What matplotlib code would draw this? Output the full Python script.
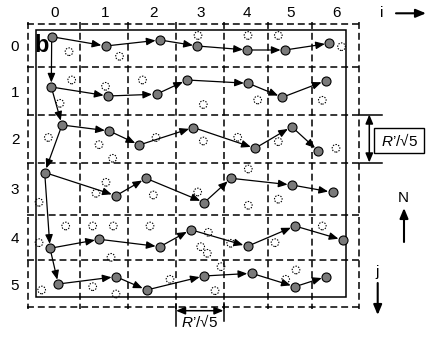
#!/usr/bin/env python3
# Sketch of the grid walk diagram (panel b)

import matplotlib
matplotlib.use("Agg")
import matplotlib.pyplot as plt
from matplotlib.patches import Rectangle

plt.rcParams["font.family"] = ["Liberation Sans", "DejaVu Sans"]
plt.rcParams["mathtext.fontset"] = "custom"
plt.rcParams["mathtext.it"] = "Liberation Sans:italic"
plt.rcParams["mathtext.rm"] = "Liberation Sans"
plt.rcParams["lines.scale_dashes"] = False

# Everything is in picture units: x to the right, y downwards
COL_EDGES = [28, 80, 128, 176, 223.5, 267.5, 311.5, 359]
ROW_EDGES = [23.5, 67, 114.5, 162.5, 214.5, 260, 307]
COL_LABELS = ["0", "1", "2", "3", "4", "5", "6"]
ROW_LABELS = ["0", "1", "2", "3", "4", "5"]

# Occupied sites, one path per row j
ROW_X = [
  [51.7, 105.7, 160, 197.3, 247.3, 285, 329.3],
  [51.3, 108, 156.5, 187, 248.3, 282.3, 325.7],
  [62, 109.3, 139.3, 193.3, 255, 291.7, 318.3],
  [44.7, 116, 146, 204.3, 231, 292, 332.5],
  [50, 99.3, 160, 190.7, 247.5, 295, 342.7],
  [58.3, 116, 146.7, 204, 251.7, 295, 326],
]
ROW_Y = [
  [36.7, 46, 40, 46, 50, 50, 43.3],
  [87, 96, 94.2, 80, 83.3, 97.3, 80.7],
  [125, 131, 145, 127.5, 148.3, 126.7, 151],
  [172.5, 195.7, 178.3, 202.5, 178.3, 185, 192.3],
  [248.3, 239.3, 246.7, 229.7, 246.3, 226, 240],
  [284, 276.7, 290, 276, 273.3, 286.7, 276.7],
]

# Empty (dotted) sites
EMPTY_X = [69, 119.5, 198, 248, 278.3, 341.5,
           71.7, 105.5, 142.5, 60, 203.3, 257.7, 322.3,
           48.3, 99, 112.7, 156, 203.3, 237.7, 278.3, 336,
           106, 96, 153.3, 197.7, 39, 248.3, 248.3, 278.3,
           65.7, 92.7, 113.3, 150, 39, 111, 208.3, 200.7, 207.3, 230.7, 275, 322.3,
           41.7, 92.7, 116, 170, 221, 296, 285.7, 215]
EMPTY_Y = [51.7, 56.3, 35.5, 35.5, 35.5, 46.7,
           80, 86.3, 80, 103.3, 104.5, 100, 100.3,
           137.5, 144.7, 158.3, 137.5, 141, 137.3, 141.7, 148.3,
           182.3, 193.3, 195, 192, 202.3, 169, 205.3, 199.2,
           226, 226, 226, 226, 242.7, 257.3, 232.3, 246.7, 253.3, 243.3, 242.7, 226,
           290, 286.7, 294, 279.3, 266.7, 270, 279.3, 290.7]

SCALE_LABEL = "$R$\u2019/\u221a5"

DASH = (0, (5.0, 2.8))
GREY = "#7a7a7a"
FS = 11


def arrow(ax, p0, p1, scale=9, shrink=3.2, lw=0.9):
  ax.annotate("", xy=p1, xytext=p0,
              arrowprops=dict(arrowstyle="-|>,head_length=0.6,head_width=0.25",
                              mutation_scale=scale, lw=lw, color="black",
                              shrinkA=shrink, shrinkB=shrink))


def main():
  fig = plt.figure(figsize=(4.3, 3.37), dpi=100)
  ax = fig.add_axes([0, 0, 1, 1])
  ax.set_xlim(0, 430)
  ax.set_ylim(337, 0)
  ax.axis("off")

  # dashed cell grid
  for x in COL_EDGES:
    ax.plot([x, x], [ROW_EDGES[0] - 2, ROW_EDGES[-1] + 2], color="black", lw=1.1, ls=DASH)
  for y in ROW_EDGES:
    ax.plot([COL_EDGES[0] - 1, COL_EDGES[-1] + 2], [y, y], color="black", lw=1.1, ls=DASH)

  # solid sample outline
  ax.add_patch(Rectangle((35.5, 29.5), 346 - 35.5, 297.3 - 29.5,
                         fill=False, ec="black", lw=1.1))

  for i, lab in enumerate(COL_LABELS):
    ax.text((COL_EDGES[i] + COL_EDGES[i + 1]) / 2 + 1, 13, lab, ha="center", va="center", fontsize=FS)
  for j, lab in enumerate(ROW_LABELS):
    ax.text(15, (ROW_EDGES[j] + ROW_EDGES[j + 1]) / 2 + 2, lab, ha="center", va="center", fontsize=FS)

  ax.text(41.5, 46, "b", ha="center", va="center", fontsize=17, fontweight="bold")

  # empty sites
  ax.scatter(EMPTY_X, EMPTY_Y, s=30, facecolors="none", edgecolors="black",
             linewidths=0.8, linestyles=(0, (1, 1)), zorder=2)

  # column walk down the first site of every row
  first_x = [xs[0] for xs in ROW_X]
  first_y = [ys[0] for ys in ROW_Y]
  for k in range(len(first_x) - 1):
    arrow(ax, (first_x[k], first_y[k]), (first_x[k + 1], first_y[k + 1]))

  # row walks
  for xs, ys in zip(ROW_X, ROW_Y):
    for k in range(len(xs) - 1):
      arrow(ax, (xs[k], ys[k]), (xs[k + 1], ys[k + 1]))
    ax.plot(xs, ys, ls="none", marker="o", ms=6.5, mfc=GREY, mec="black", mew=0.8, zorder=4)

  # axis direction hints
  ax.text(381.5, 13, "i", ha="center", va="center", fontsize=FS)
  arrow(ax, (396, 13.3), (426, 13.3), scale=10, shrink=0, lw=1.5)
  ax.text(403.5, 198, "N", ha="center", va="center", fontsize=FS)
  arrow(ax, (404, 242), (404, 208), scale=10, shrink=0, lw=1.5)
  ax.text(377.5, 272, "j", ha="center", va="center", fontsize=FS)
  arrow(ax, (377.7, 283), (377.7, 315), scale=10, shrink=0, lw=1.5)

  # vertical scale bar
  for y in (ROW_EDGES[2], ROW_EDGES[3]):
    ax.plot([360, 382], [y, y], color="black", lw=1.1)
  ax.annotate("", xy=(369.3, ROW_EDGES[2]), xytext=(369.3, ROW_EDGES[3]),
              arrowprops=dict(arrowstyle="<|-|>,head_length=0.6,head_width=0.25",
                              mutation_scale=9, lw=1.1, color="black", shrinkA=0, shrinkB=0))
  ax.add_patch(Rectangle((374.3, 127.7), 50, 25, fill=False, ec="black", lw=1.0))
  ax.text(399.3, 140.5, SCALE_LABEL, ha="center", va="center", fontsize=FS)

  # horizontal scale bar
  ax.plot([COL_EDGES[3], COL_EDGES[3]], [304, 326], color="black", lw=1.1)
  ax.plot([COL_EDGES[4], COL_EDGES[4]], [303, 321], color="black", lw=1.1)
  ax.annotate("", xy=(COL_EDGES[3], 310.7), xytext=(COL_EDGES[4], 310.7),
              arrowprops=dict(arrowstyle="<|-|>,head_length=0.6,head_width=0.25",
                              mutation_scale=9, lw=1.1, color="black", shrinkA=0, shrinkB=0))
  ax.text(181, 321.5, SCALE_LABEL, ha="left", va="center", fontsize=FS)

  plt.savefig("out.png", dpi=100)


if __name__ == "__main__":
  main()
